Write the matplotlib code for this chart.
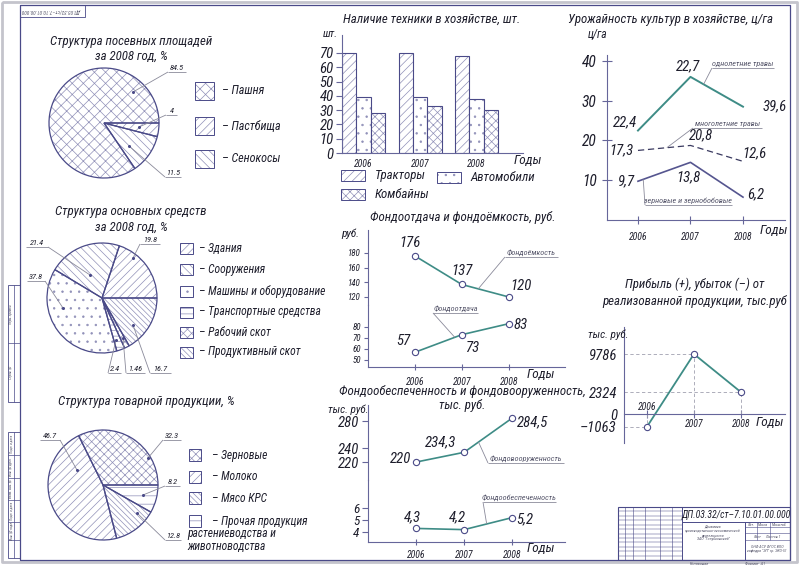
import numpy as np
import matplotlib
matplotlib.use('Agg')
import matplotlib.pyplot as plt
from matplotlib.patches import Rectangle
from matplotlib import font_manager

# ---------------- data ----------------
sown_labels = ['Пашня', 'Пастбища', 'Сенокосы']
sown_values = [84.5, 4, 11.5]
sown_text = ['84.5', '4', '11.5']

assets_labels = ['Здания', 'Сооружения', 'Машины и оборудование',
                 'Транспортные средства', 'Рабочий скот', 'Продуктивный скот']
assets_values = [19.8, 21.4, 37.8, 2.4, 1.46, 16.7]
assets_text = ['19.8', '21.4', '37.8', '2.4', '1.46', '16.7']

prod_labels = ['Зерновые', 'Молоко', 'Мясо КРС',
               'Прочая продукция\nрастениеводства и\nживотноводства']
prod_values = [32.3, 46.7, 12.8, 8.2]
prod_text = ['32.3', '46.7', '12.8', '8.2']

years = [2006, 2007, 2008]
tractors = [70, 70, 68]
cars = [39, 39, 38]
combines = [28, 33, 30]
bar_series = ['Тракторы', 'Автомобили', 'Комбайны']
bar_ticks = [0, 10, 20, 30, 40, 50, 60, 70]

yield_annual = [22.5, 36.0, 28.5]
yield_annual_text = ['22,4', '22,7', '39,6']
yield_perennial = [17.5, 18.75, 14.75]
yield_perennial_text = ['17,3', '20,8', '12,6']
yield_grain = [9.75, 14.5, 5.75]
yield_grain_text = ['9,7', '13,8', '6,2']
yield_ticks = [10, 20, 30, 40]

fondoemkost = [176, 137, 120]
fondootdacha = [57, 73, 83]
fe_ticks = [120, 140, 160, 180]
fo_ticks = [50, 60, 70, 80]

fondovoor = [220, 234.3, 284.5]
fondovoor_text = ['220', '234,3', '284,5']
fondoobesp = [4.3, 4.2, 5.2]
fondoobesp_text = ['4,3', '4,2', '5,2']
fv_ticks = [220, 240, 280]
fob_ticks = [4, 5, 6]

profit = [-1063, 9786, 2324]

# ---------------- style ----------------
INK = '#1e1e2c'
NAVY = '#4a4a88'
HAT = '#9090b8'
TEAL = '#3e8c86'
AXC = '#66669a'
NOTE_L = '#8a8a9a'
NOTE_T = '#55556a'
GUIDE = '#a0a0b0'

_avail = {f.name for f in font_manager.fontManager.ttflist}
_narrow = [f for f in ['Liberation Sans Narrow', 'Roboto Condensed', 'Roboto'] if f in _avail]
FAM = _narrow[:1] + ['DejaVu Sans']
NARROW = bool(_narrow) and _narrow[0] != 'Roboto'
SC = 1.12 if NARROW else 1.0   # narrow fonts can be drawn a little taller

plt.rcParams['font.family'] = FAM
plt.rcParams['font.style'] = 'italic'
plt.rcParams['hatch.linewidth'] = 0.5

W, H = 800, 565
fig = plt.figure(figsize=(W / 100, H / 100), dpi=100)
ov = fig.add_axes([0, 0, 1, 1], zorder=10)
ov.set_xlim(0, W)
ov.set_ylim(H, 0)
ov.axis('off')


def fs(v):
    return v * SC


def px_ax(x0, y0, x1, y1):
    ax = fig.add_axes([x0 / W, 1 - y1 / H, (x1 - x0) / W, (y1 - y0) / H])
    ax.patch.set_alpha(0)
    return ax


def to_px(ax, x, y):
    d = ax.transData.transform((x, y))
    return ov.transData.inverted().transform(d)


def line(xs, ys, c=NAVY, lw=0.8, **kw):
    ov.plot(xs, ys, color=c, lw=lw, solid_capstyle='butt', **kw)


def txt(x, y, s, size, ha='center', va='center', color=INK, **kw):
    ov.text(x, y, s, ha=ha, va=va, fontsize=fs(size), color=color, **kw)


def style(ax, left=True, bottom=True):
    for s in ['top', 'right']:
        ax.spines[s].set_visible(False)
    ax.spines['left'].set_visible(left)
    ax.spines['bottom'].set_visible(bottom)
    for s in ['left', 'bottom']:
        ax.spines[s].set_color(AXC)
        ax.spines[s].set_linewidth(0.8)
    ax.tick_params(colors=AXC, labelcolor=INK)


def hbox(x0, y0, w, h, hatch):
    ov.add_patch(Rectangle((x0, y0), w, h, facecolor='white', edgecolor=HAT, lw=0, hatch=hatch))
    ov.add_patch(Rectangle((x0, y0), w, h, fill=False, edgecolor=NAVY, lw=0.7))


def vlabels(ax, xs, ys, texts, specs, size=9.5):
    for x, y, t, (ha, va, dx, dy) in zip(xs, ys, texts, specs):
        ax.annotate(t, (x, y), xytext=(dx, dy), textcoords='offset pixels',
                    ha=ha, va=va, fontsize=fs(size), color=INK)


def note(ax, xd, xs, ys, x0, x1, y, text, join='left', size=5.2):
    yd = np.interp(xd, xs, ys)
    p = to_px(ax, xd, yd)
    jx = x0 if join == 'left' else x1
    line([p[0], jx], [p[1], y], c=NOTE_L, lw=0.6)
    line([x0, x1], [y, y], c=NOTE_L, lw=0.6)
    txt((x0 + x1) / 2, y - 1, text, size, va='bottom', color=NOTE_T)


# ---------------- sheet frame ----------------
line([2, 797, 797, 2, 2], [2, 2, 562, 562, 2], c='#c4c4cc', lw=2)
line([20, 790, 790, 20, 20], [5, 5, 560, 560, 5], lw=0.9)
ov.add_patch(Rectangle((20, 5), 65, 12, fill=False, ec=NAVY, lw=0.6))
txt(52, 11, 'ДП.03.32/ст–7.10.01.00.000', 3.4, rotation=180, color=NOTE_T)
# left strip
for y0, y1, divs, labs in [(285, 402, [343], ['Перв. примен.', 'Справ. №']),
                           (432, 558, [455, 478, 500, 522, 540],
                            ['Подп. и дата', 'Инв. № дубл.', 'Взам. инв. №', 'Подп. и дата', 'Инв. № подл.'])]:
    ov.add_patch(Rectangle((8, y0), 12, y1 - y0, fill=False, ec=NAVY, lw=0.6))
    line([14, 14], [y0, y1], lw=0.5)
    for d in divs:
        line([8, 20], [d, d], lw=0.5)
    edges = [y0] + divs + [y1]
    for i, lab in enumerate(labs):
        txt(11, (edges[i] + edges[i + 1]) / 2, lab, 2.3, rotation=90, color=NOTE_T)

# title block
tb = (618, 507, 790, 560)
ov.add_patch(Rectangle((tb[0], tb[1]), tb[2] - tb[0], tb[3] - tb[1], fill=False, ec=NAVY, lw=0.8))
for xv in [625, 633, 645, 660, 672]:
    line([xv, xv], [507, 560], lw=0.4)
line([682, 682], [507, 560], lw=0.7)
for yy in np.linspace(507, 560, 13)[1:-1]:
    line([618, 682], [yy, yy], lw=0.35)
line([682, 790], [522, 522], lw=0.7)
line([745, 745], [522, 560], lw=0.7)
for yy in [527, 533, 540]:
    line([745, 790], [yy, yy], lw=0.4)
for xv in [757, 770]:
    line([xv, xv], [522, 540], lw=0.4)
txt(736, 515, 'ДП.03.32/ст–7.10.01.00.000', 6.3)
txt(713, 533, 'Динамика\nпроизводственно-экономической\nдеятельности\nЗАО "Голубковский"',
    2.6, color=NOTE_T, linespacing=1.1)
for xx, t in [(751, 'Лит.'), (763, 'Масса'), (779, 'Масштаб')]:
    txt(xx, 524.5, t, 2.6, color=NOTE_T)
txt(767, 536.5, 'Лист      Листов 1', 2.6, color=NOTE_T)
txt(767, 549, 'ОНФ АСУ ФГОС ВПО\nкафедра "ЭП" гр. ЭКО-51', 2.6, color=NOTE_T)
txt(700, 563.5, 'Копировал', 2.8, color=NOTE_T)
txt(755, 563.5, 'Формат  А1', 2.8, color=NOTE_T)


# ---------------- pies ----------------
def draw_pie(cx, cy, r, values, hatches, order):
    ax = px_ax(cx - r * 1.05, cy - r * 1.05, cx + r * 1.05, cy + r * 1.05)
    vals = [values[i] for i in order]
    hs = [hatches[i] for i in order]
    ax.pie(vals, startangle=0, counterclock=True, colors=['none'] * len(vals), hatch=hs,
           wedgeprops=dict(edgecolor=HAT, linewidth=0))
    ax.pie(vals, startangle=0, counterclock=True,
           wedgeprops=dict(fill=False, edgecolor=NAVY, linewidth=0.9))
    ax.set_xlim(-1.05, 1.05)
    ax.set_ylim(-1.05, 1.05)
    ax.set_aspect('equal')
    ax.axis('off')
    return ax


def pie_label(anchor, x0, x1, y, text, join='left', size=5.3):
    jx = x0 if join == 'left' else x1
    line([anchor[0], jx], [anchor[1], y], c=NOTE_L, lw=0.6)
    line([x0, x1], [y, y], c=NOTE_L, lw=0.6)
    ov.plot(*anchor, 'o', ms=1.2, color=NAVY)
    txt((x0 + x1) / 2, y - 1, text, size, va='bottom')


def legend_rows(x0, w, h, ycs, hatches, labels, tx, size, wrap_x=None):
    for yc, hch, lab in zip(ycs, hatches, labels):
        hbox(x0, yc - h / 2, w, h, hch)
        parts = lab.split('\n')
        txt(tx, yc, '– ' + parts[0], size, ha='left')
        for k, p in enumerate(parts[1:]):
            txt(wrap_x, yc + 13 * (k + 1), p, size, ha='left')


TS = 8.3  # title size

# pie 1
txt(131, 41, 'Структура посевных площадей', TS)
txt(131, 56, 'за 2008 год, %', TS)
sown_hatch = ['xxx', '////', '\\\\\\\\']
draw_pie(104, 123, 55, sown_values, sown_hatch, [0, 2, 1])
pie_label((133, 92), 168, 186, 72, sown_text[0])
pie_label((139, 127), 166, 177, 115, sown_text[1])
pie_label((129, 146), 165, 181, 177, sown_text[2])
legend_rows(195, 19, 18, [91, 126, 159], sown_hatch, sown_labels, 222, 7.8)

# pie 2
txt(131, 212, 'Структура основных средств', TS)
txt(131, 227, 'за 2008 год, %', TS)
assets_hatch = ['////', '\\\\\\\\', '..', '---', 'xxxx', '\\\\\\\\\\\\']
draw_pie(102, 298, 55, assets_values, assets_hatch, [0, 1, 2, 3, 4, 5])
pie_label((133, 258), 140, 160, 244, assets_text[0])
pie_label((90, 275), 26, 48, 247, assets_text[1], join='right')
pie_label((63, 308), 27, 45, 281, assets_text[2], join='right')
pie_label((116, 340), 108, 121, 373, assets_text[3])
pie_label((123, 338), 126, 145, 373, assets_text[4])
pie_label((133, 325), 150, 171, 373, assets_text[5])
legend_rows(180, 13, 11, [248, 269, 291, 312, 332, 352], assets_hatch, assets_labels, 199, 7.4)

# pie 3
txt(146, 401, 'Структура товарной продукции, %', TS)
prod_hatch = ['xxxx', '////', '\\\\\\\\\\\\', '--']
draw_pie(103, 485, 55, prod_values, prod_hatch, [0, 1, 2, 3])
pie_label((148, 458), 163, 181, 440, prod_text[0])
pie_label((77, 470), 40, 60, 440, prod_text[1], join='right')
pie_label((137, 513), 165, 181, 540, prod_text[2])
pie_label((143, 495), 165, 180, 486, prod_text[3])
legend_rows(189, 12, 12, [455, 477, 498, 521], prod_hatch, prod_labels, 212, 7.4, wrap_x=187)

# ---------------- bar chart ----------------
txt(432, 19, 'Наличие техники в хозяйстве, шт.', TS)
axb = px_ax(342, 35, 523, 153)
style(axb)
xg = np.arange(len(years))
bw = 0.253
bar_hatch = ['////', '..', 'xxxx']
for off, vals, hch in [(-bw, tractors, bar_hatch[0]), (0, cars, bar_hatch[1]), (bw, combines, bar_hatch[2])]:
    axb.bar(xg + off, vals, bw, color='white', edgecolor=HAT, lw=0, hatch=hch)
    axb.bar(xg + off, vals, bw, fill=False, edgecolor=NAVY, lw=0.8)
axb.set_xlim(-0.38, 2.82)
axb.set_ylim(0, 82.6)
axb.set_yticks(bar_ticks, labels=[str(t) for t in bar_ticks], fontsize=fs(9.5))
axb.set_xticks(xg, labels=[str(y) for y in years], fontsize=fs(6.3))
axb.tick_params(axis='y', direction='out', length=4, pad=2)
axb.tick_params(axis='x', length=0, pad=4)
txt(338, 34, 'шт.', 7.2, ha='right')
txt(528, 160, 'Годы', 8.5)
for (bx, by, tx), hch, lab in zip([(341, 170, 375), (437, 172, 470), (341, 189, 375)], bar_hatch, bar_series):
    hbox(bx, by, 24, 11, hch)
    txt(tx, by + 5.5, lab, 8.3, ha='left')

# ---------------- yield chart ----------------
txt(670, 20, 'Урожайность культур в хозяйстве, ц/га', TS)
axy = px_ax(607, 55, 785, 220)
style(axy)
axy.set_xlim(2005.41, 2008.8)
axy.set_ylim(0, 41.5)
axy.set_yticks(yield_ticks, labels=[str(t) for t in yield_ticks], fontsize=fs(10))
axy.set_xticks(years, labels=[str(y) for y in years], fontsize=fs(6.3))
axy.tick_params(axis='y', direction='inout', length=7, pad=4)
axy.tick_params(axis='x', direction='inout', length=6, pad=6)
axy.plot(years, yield_annual, color=TEAL, lw=1.4)
axy.plot(years, yield_perennial, color='#3a3a60', lw=0.9, ls=(0, (5, 3)))
axy.plot(years, yield_grain, color='#55558f', lw=1.2)
vlabels(axy, years, yield_annual, yield_annual_text,
        [('right', 'bottom', -1, 1), ('center', 'bottom', -3, 4), ('left', 'center', 20, 0)])
vlabels(axy, years, yield_perennial, yield_perennial_text,
        [('right', 'center', -4, 0), ('left', 'bottom', -2, 3), ('left', 'bottom', -1, 1)])
vlabels(axy, years, yield_grain, yield_grain_text,
        [('right', 'center', -3, 0), ('center', 'top', -2, -8), ('left', 'center', 4, 3)])
note(axy, 2007.25, years, yield_annual, 712, 774, 68, 'однолетние травы')
note(axy, 2006.55, years, yield_perennial, 693, 762, 128, 'многолетние травы')
note(axy, 2006.1, years, yield_grain, 645, 732, 205, 'зерновые и зернобобовые')
txt(598, 35, 'ц/га', 7.5)
txt(774, 230, 'Годы', 8.5)

# ---------------- fondootdacha / fondoemkost ----------------
txt(463, 218, 'Фондоотдача и фондоёмкость, руб.', TS)
axu = px_ax(368, 230, 565, 305)
axl = px_ax(368, 305, 565, 367)
style(axu, bottom=False)
style(axl)
for a in (axu, axl):
    a.set_xlim(2005, 2009.2)
axu.set_ylim(109, 211.4)
axl.set_ylim(43.6, 100)
axu.set_xticks([])
axu.set_yticks(fe_ticks, labels=[str(t) for t in fe_ticks], fontsize=fs(5.8))
axl.set_yticks(fo_ticks, labels=[str(t) for t in fo_ticks], fontsize=fs(5.8))
axl.set_xticks(years, labels=[str(y) for y in years], fontsize=fs(6.3))
for a in (axu, axl):
    a.tick_params(axis='y', direction='out', length=3, pad=2)
axl.tick_params(axis='x', direction='inout', length=4, pad=5)
mk = dict(marker='o', ms=4.5, mfc='white', mec=NAVY, mew=0.8)
axu.plot(years, fondoemkost, color=TEAL, lw=1.2, **mk)
axl.plot(years, fondootdacha, color=TEAL, lw=1.2, **mk)
vlabels(axu, years, fondoemkost, [str(v) for v in fondoemkost],
        [('center', 'bottom', -5, 6), ('center', 'bottom', 0, 6), ('left', 'bottom', 2, 4)])
vlabels(axl, years, fondootdacha, [str(v) for v in fondootdacha],
        [('right', 'bottom', -4, 4), ('left', 'top', 3, -6), ('left', 'center', 5, -1)])
note(axu, 2007.35, years, fondoemkost, 505, 558, 257, 'Фондоёмкость')
note(axl, 2006.85, years, fondootdacha, 433, 478, 313, 'Фондоотдача')
txt(350, 234, 'руб.', 7.2)
txt(541, 374, 'Годы', 8.5)

# ---------------- fondoobespechennost / fondovooruzhennost ----------------
txt(462, 392, 'Фондообеспеченность и фондовооруженность,', TS)
txt(462, 405, 'тыс. руб.', TS)
axU2 = px_ax(368, 405, 565, 480)
axL2 = px_ax(368, 480, 565, 542)
style(axU2, bottom=False)
style(axL2)
for a in (axU2, axL2):
    a.set_xlim(2005, 2009.1)
axU2.set_ylim(193.7, 303.7)
axL2.set_ylim(3.17, 8.33)
axU2.set_xticks([])
axU2.set_yticks(fv_ticks, labels=[str(t) for t in fv_ticks], fontsize=fs(9.5))
axL2.set_yticks(fob_ticks, labels=[str(t) for t in fob_ticks], fontsize=fs(8.5))
axL2.set_xticks(years, labels=[str(y) for y in years], fontsize=fs(6.3))
for a in (axU2, axL2):
    a.tick_params(axis='y', direction='out', length=4, pad=2)
axL2.tick_params(axis='x', direction='inout', length=4, pad=4)
axU2.plot(years, fondovoor, color=TEAL, lw=1.2, **mk)
axL2.plot(years, fondoobesp, color=TEAL, lw=1.2, **mk)
vlabels(axU2, years, fondovoor, fondovoor_text,
        [('right', 'center', -5, 3), ('right', 'bottom', -8, 3), ('left', 'center', 5, -4)])
vlabels(axL2, years, fondoobesp, fondoobesp_text,
        [('center', 'bottom', -4, 4), ('center', 'bottom', -7, 5), ('left', 'center', 4, -2)])
note(axU2, 2007.3, years, fondovoor, 488, 564, 463, 'Фондовооруженность')
note(axL2, 2007.47, years, fondoobesp, 483, 556, 502, 'Фондообеспеченность')
txt(348, 410, 'тыс. руб.', 7.2)
txt(541, 548, 'Годы', 8.5)

# ---------------- profit chart ----------------
txt(695, 284, 'Прибыль (+), убыток (–) от', TS)
txt(695, 301, 'реализованной продукции, тыс.руб', TS)
axp = px_ax(624, 327, 785, 443)


def _fwd(v):
    v = np.asarray(v, float)
    return np.sign(v) * np.abs(v) ** 0.7


def _inv(v):
    v = np.asarray(v, float)
    return np.sign(v) * np.abs(v) ** (1 / 0.7)


axp.set_yscale('function', functions=(_fwd, _inv))
axp.set_ylim(-3465, 16660)
axp.set_xlim(2005.51, 2008.94)
style(axp)
axp.spines['bottom'].set_position(('data', 0))
pt = sorted(profit + [0])
axp.set_yticks(pt, labels=[str(v).replace('-', '–') for v in pt], fontsize=fs(9.5))
axp.tick_params(axis='y', length=0, pad=5)
axp.set_xticks(years, labels=[])
axp.tick_params(axis='x', direction='inout', length=6)
x_left = axp.get_xlim()[0]
for yr, v in zip(years, profit):
    axp.plot([x_left, yr], [v, v], color=GUIDE, lw=0.6, ls=(0, (4, 3)))
    axp.plot([yr, yr], [0, v], color=GUIDE, lw=0.6, ls=(0, (4, 3)))
axp.plot(years, profit, color=TEAL, lw=1.3, **mk)
for yr, v in zip(years, profit):
    p = to_px(axp, yr, 0)
    if v < 0:
        txt(p[0], p[1] - 2, str(yr), 6.3, va='bottom')
    else:
        txt(p[0], p[1] + 5, str(yr), 6.3, va='top')
txt(608, 335, 'тыс. руб.', 7.2)
txt(770, 423, 'Годы', 8.5)

fig.savefig('out.png', dpi=100)
